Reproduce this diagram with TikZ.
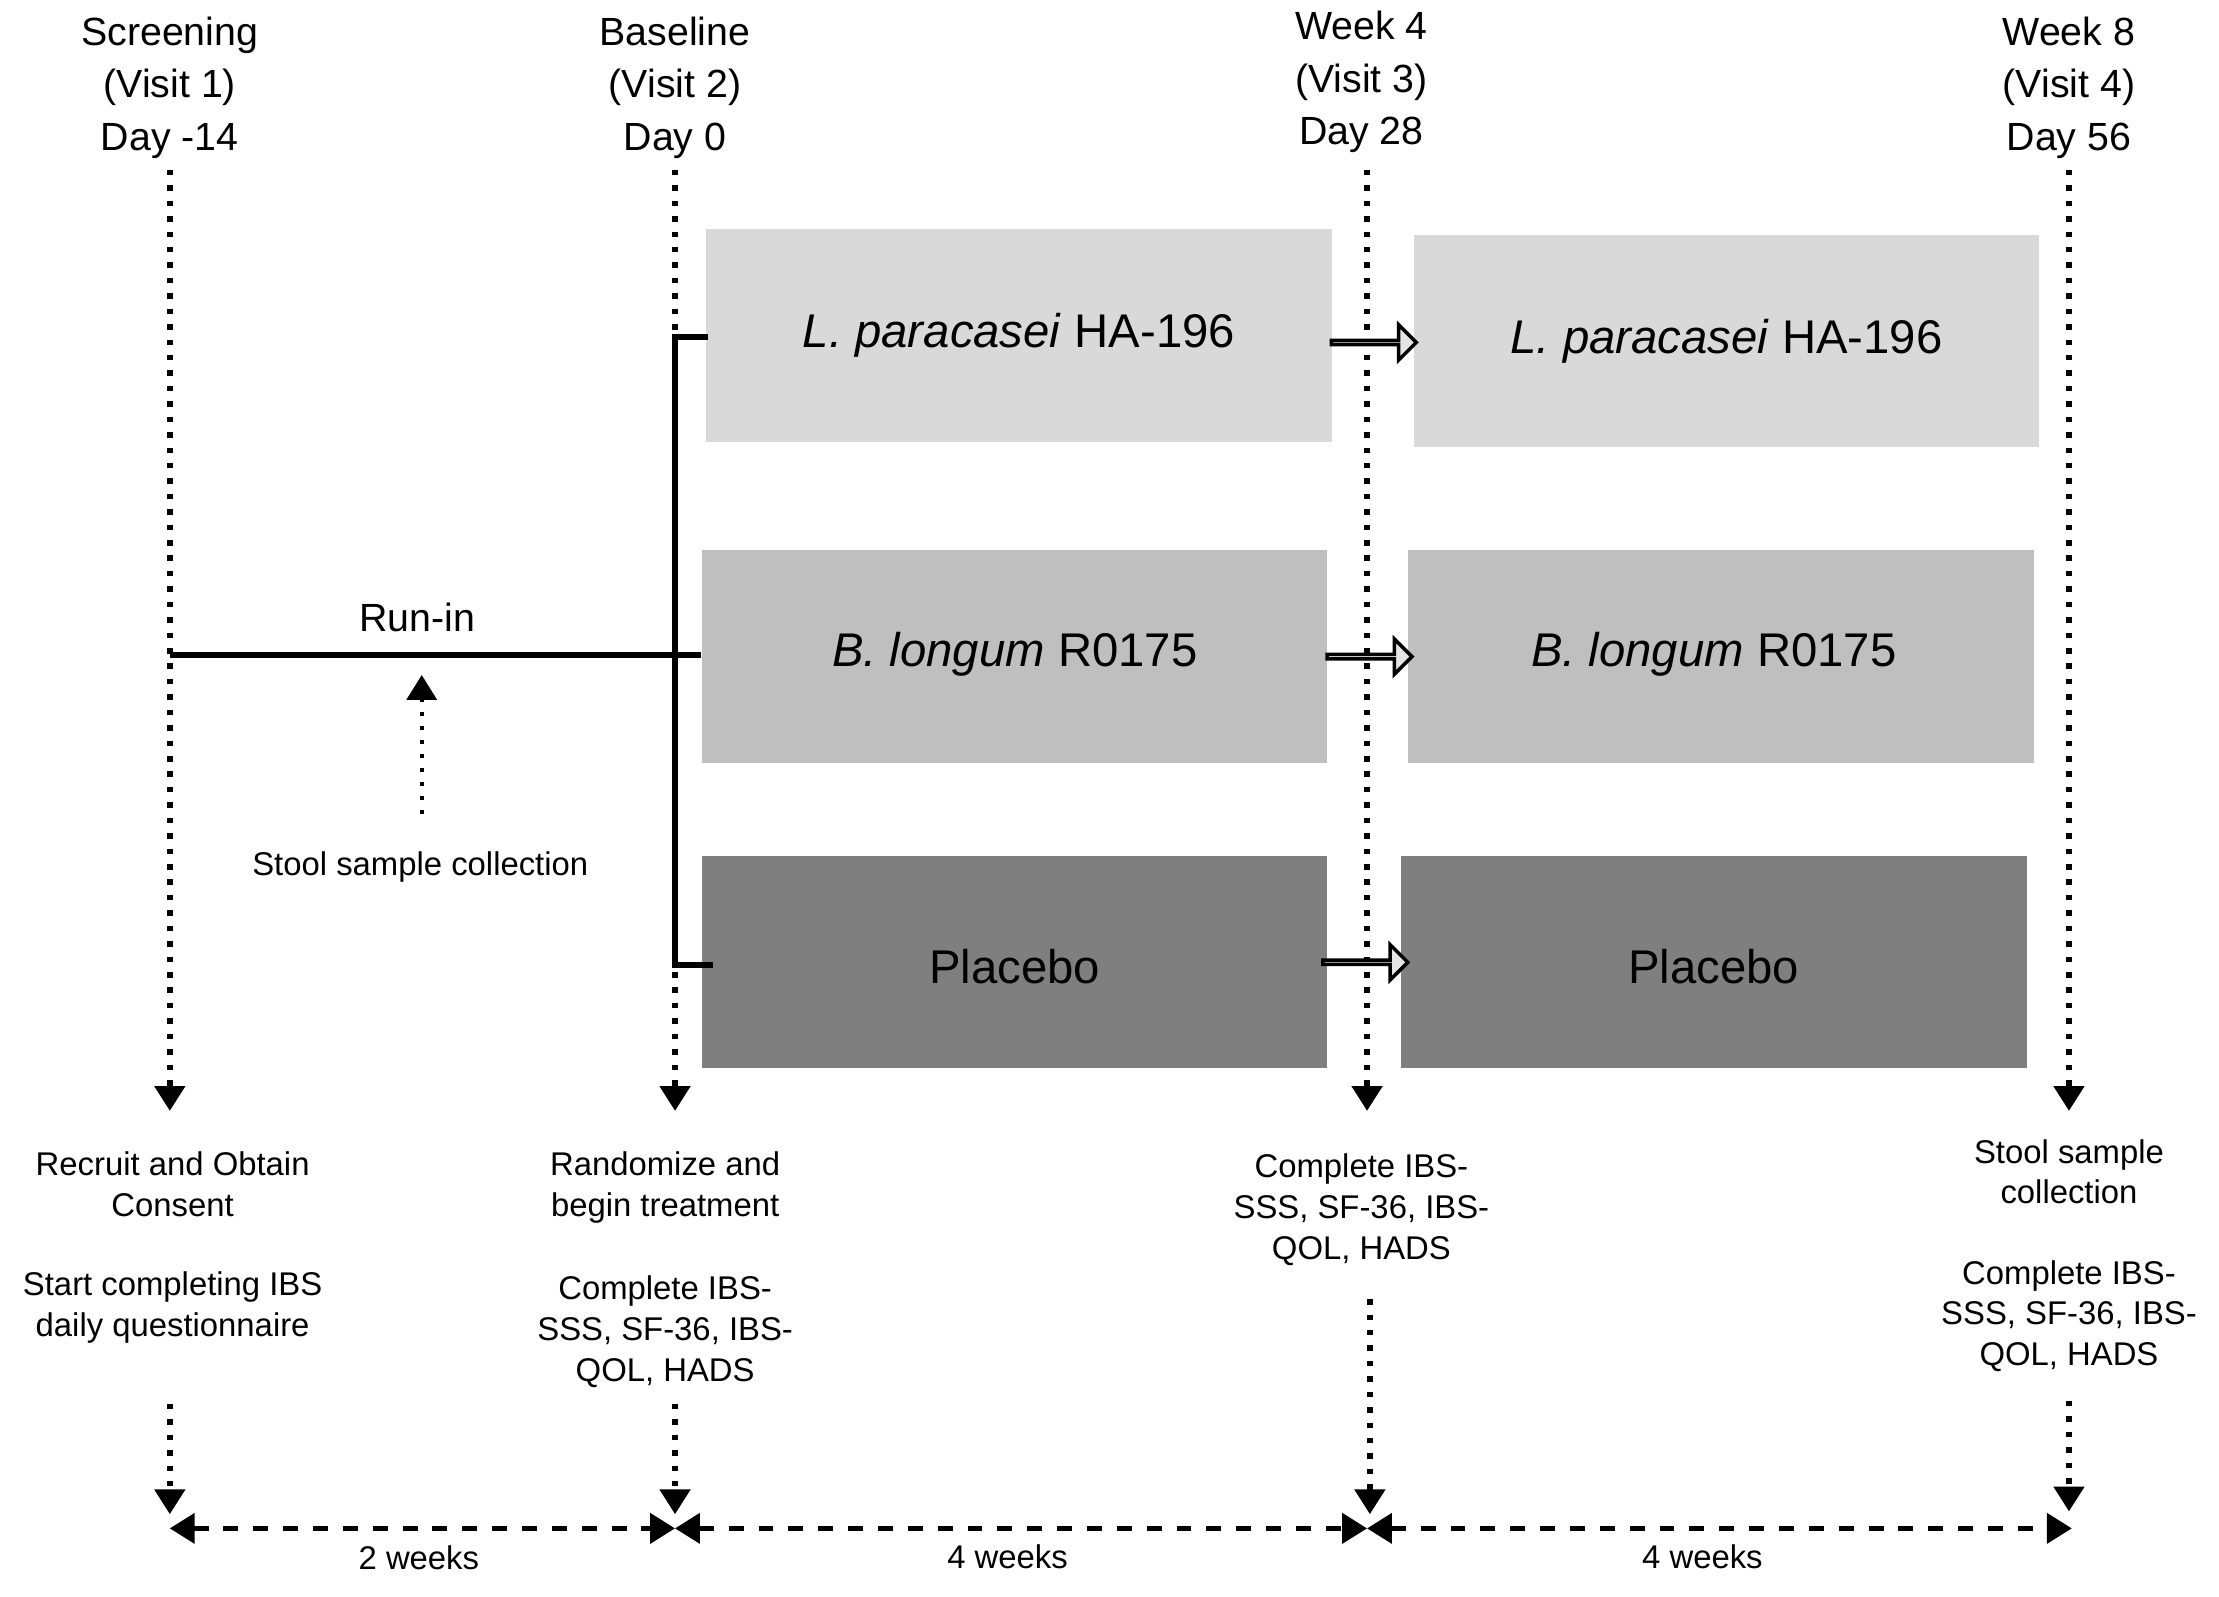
\documentclass[tikz,border=0pt]{standalone}
\usepackage{fontspec}
\setmainfont{Liberation Sans}
\usetikzlibrary{arrows.meta,shapes.arrows}
\begin{document}
\begin{tikzpicture}[x=0.01cm,y=-0.01cm,
 vdot/.style={line width=1.1pt,dotted,-{Triangle[length=5pt,width=6pt]}},
 hd/.style={line width=0.9pt,dashed,{Triangle[length=5pt,width=6pt]}-{Triangle[length=5pt,width=6pt]}},
 head/.style={align=center,font=\fontsize{7.9}{10.5}\selectfont},
 note/.style={align=center,font=\fontsize{6.6}{8.2}\selectfont},
 box/.style={draw=white,line width=1pt,minimum width=442\pgflinewidth,font=\fontsize{9.5}{11}\selectfont},
 hol/.style={single arrow,draw=black,fill=gray!20,line width=0.7pt,minimum height=0.6cm,single arrow head extend=2.5pt,minimum width=0.25cm,inner sep=0pt}]
\useasboundingbox (0,0) rectangle (1568,1128);
\definecolor{c1}{HTML}{D9D9D9}\definecolor{c2}{HTML}{BFBFBF}\definecolor{c3}{HTML}{7F7F7F}
% headers
\node[head] (h1) at (120,62) {Screening\\(Visit 1)\\Day -14};
\node[head] (h2) at (477,62) {Baseline\\(Visit 2)\\Day 0};
\node[head] (h3) at (962,58) {Week 4\\(Visit 3)\\Day 28};
\node[head] (h4) at (1462,62) {Week 8\\(Visit 4)\\Day 56};
% boxes
\fill[c1] (499,162) rectangle (941,312); \node[font=\fontsize{9.5}{11}\selectfont] (b1) at (720,237) {\textit{L. paracasei} HA-196};
\fill[c1] (999,166) rectangle (1441,316); \node[font=\fontsize{9.5}{11}\selectfont] (b2) at (1220,241) {\textit{L. paracasei} HA-196};
\fill[c2] (496,389) rectangle (938,539); \node[font=\fontsize{9.5}{11}\selectfont] (b3) at (717,462) {\textit{B. longum} R0175};
\fill[c2] (995,389) rectangle (1437,539); \node[font=\fontsize{9.5}{11}\selectfont] (b4) at (1211,462) {\textit{B. longum} R0175};
\fill[c3] (496,605) rectangle (938,755); \node[font=\fontsize{9.5}{11}\selectfont] (b5) at (717,683) {Placebo};
\fill[c3] (990,605) rectangle (1432,755); \node[font=\fontsize{9.5}{11}\selectfont] (b6) at (1211,683) {Placebo};
% vertical dotted
\coordinate (v1a) at (120,120); \coordinate (v1b) at (120,785);
\coordinate (v2a) at (477,120); \coordinate (v2b) at (477,785);
\coordinate (v3a) at (966,120); \coordinate (v3b) at (966,785);
\coordinate (v4a) at (1462,120); \coordinate (v4b) at (1462,785);
\draw[vdot] (v1a)--(v1b); \draw[vdot] (v2a)--(v2b); \draw[vdot] (v3a)--(v3b); \draw[vdot] (v4a)--(v4b);
% hollow arrows
\node[hol] (a1) at (970,242) {}; \node[hol] (a2) at (967,464) {}; \node[hol] (a3) at (964,680) {};
% run-in & bracket
\coordinate (r0) at (120,463); \coordinate (r1) at (495,463);
\draw[line width=1.2pt] (r0)--(r1);
\node[head] (runin) at (295,436) {Run-in};
\draw[line width=1.2pt] (500,238)-|(477,682)--(504,682);
\coordinate (sa) at (298,575); \coordinate (sb) at (298,477);
\draw[line width=0.8pt,dotted,-{Triangle[length=5pt,width=6pt]}] (sa)--(sb);
\node[note] (stool) at (297,613) {Stool sample collection};
% notes
\node[note] (n1) at (122,837) {Recruit and Obtain\\Consent};
\node[note] (n1b) at (122,924) {Start completing IBS\\daily questionnaire};
\node[note] (n2) at (470,839) {Randomize and\\begin treatment};
\node[note] (n2b) at (470,941) {Complete IBS-\\SSS, SF-36, IBS-\\QOL, HADS};
\node[note] (n3) at (962,855) {Complete IBS-\\SSS, SF-36, IBS-\\QOL, HADS};
\node[note] (n4) at (1462,828) {Stool sample\\collection};
\node[note] (n4b) at (1462,930) {Complete IBS-\\SSS, SF-36, IBS-\\QOL, HADS};
% lower dotted
\draw[vdot] (120,992)--(120,1070); \draw[vdot] (477,992)--(477,1070);
\draw[vdot] (968,918)--(968,1070); \draw[vdot] (1462,990)--(1462,1068);
% bottom
\coordinate (t1) at (120,1080); \coordinate (t2) at (477,1080); \coordinate (t3) at (966,1080); \coordinate (t4) at (1464,1080);
\draw[hd] (t1)--(t2); \draw[hd] (t2)--(t3); \draw[hd] (t3)--(t4);
\node[note] (w1) at (296,1101) {2 weeks};
\node[note] (w2) at (712,1100) {4 weeks};
\node[note] (w3) at (1203,1100) {4 weeks};
\end{tikzpicture}
\end{document}
